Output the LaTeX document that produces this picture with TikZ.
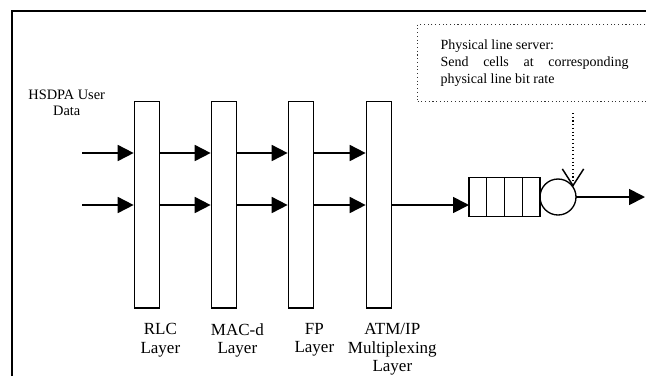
\documentclass[tikz,border=0pt]{standalone}
\usepackage{fontspec}
\setmainfont{Liberation Serif}
\usepackage{tikz}
\usetikzlibrary{arrows.meta,positioning,calc}
\tikzset{
  layerbox/.style={draw=black,line width=1pt,minimum width=19pt,minimum height=155pt,inner sep=0pt},
  qbox/.style={draw=black,line width=1pt,minimum width=53.25pt,minimum height=29.25pt,inner sep=0pt,outer sep=0pt},
  srvcirc/.style={draw=black,line width=1pt,circle,minimum size=27pt,inner sep=0pt,outer sep=0pt},
  notebox/.style={draw=black!80,dotted,line width=0.8pt,align=justify,text width=141pt,inner xsep=17.25pt,
    minimum height=57.75pt,font=\fontsize{10.5pt}{12.75pt}\selectfont,
    execute at begin node={\hyphenpenalty=10000\relax}},
  lbl/.style={align=center,inner sep=0pt,font=\fontsize{12.75pt}{13.9pt}\selectfont},
  flow/.style={-{Triangle[length=12pt,width=12pt]},line width=1.3pt},
  dotlink/.style={-{Straight Barb[length=12.5pt,width=16pt,line width=1.1pt]},dotted,line width=0.8pt},
  qline/.style={line width=1pt},
  frame/.style={line width=1.6pt}
}
\begin{document}
\begin{tikzpicture}[x=0.75pt,y=-0.75pt]
  \useasboundingbox (0,0) rectangle (646,376);
  \draw[frame] (12,376) -- (12,11) -- (646,11);
  % layers
  \node[layerbox] (rlc) at (147,204.5) {};
  \node[layerbox] (mac) at (224,204.5) {};
  \node[layerbox] (fp)  at (301,204.5) {};
  \node[layerbox] (atm) at (379,204.5) {};
  \node[lbl,anchor=north] at (rlc.east |- 0,323) {RLC\\Layer};
  \node[lbl,anchor=north] at (mac.east |- 0,323) {MAC-d\\Layer};
  \node[lbl,anchor=north] at (fp.east |- 0,323) {FP\\Layer};
  \node[lbl,anchor=north] at (atm.east |- 0,323) {ATM/IP\\Multiplexing\\Layer};
  \node[lbl,anchor=north,font=\fontsize{10.8pt}{12pt}\selectfont] (user) at (66.7,90) {HSDPA User\\Data};
  % flows
  \coordinate (in1) at (82,153);
  \coordinate (in2) at (82,205);
  \draw[flow] (in1) -- (in1 -| rlc.west);
  \draw[flow] (in2) -- (in2 -| rlc.west);
  \foreach \a/\b in {rlc/mac,mac/fp,fp/atm}{
    \draw[flow] (\a.east |- in1) -- (\b.west |- in1);
    \draw[flow] (\a.east |- in2) -- (\b.west |- in2);
  }
  % queue and server
  \node[qbox] (queue) at (504.5,197) {};
  \foreach \i in {1,2,3}
    \draw[qline] ($(queue.north west)!\i/4!(queue.north east)$) -- ($(queue.south west)!\i/4!(queue.south east)$);
  \node[srvcirc] (srv) at (558,197) {};
  \draw[flow] (atm.east |- in2) -- (queue.west |- in2);
  \coordinate (out) at (645,197);
  \draw[flow] (srv.east) -- (out);
  % physical line server
  \node[notebox,anchor=north west] (note) at (417,24) {Physical line server:\\
    Send cells at corresponding physical line bit rate};
  \coordinate (tap) at (573,113);
  \draw[dotlink] (tap) -- (tap |- srv.34);
\end{tikzpicture}
\end{document}
